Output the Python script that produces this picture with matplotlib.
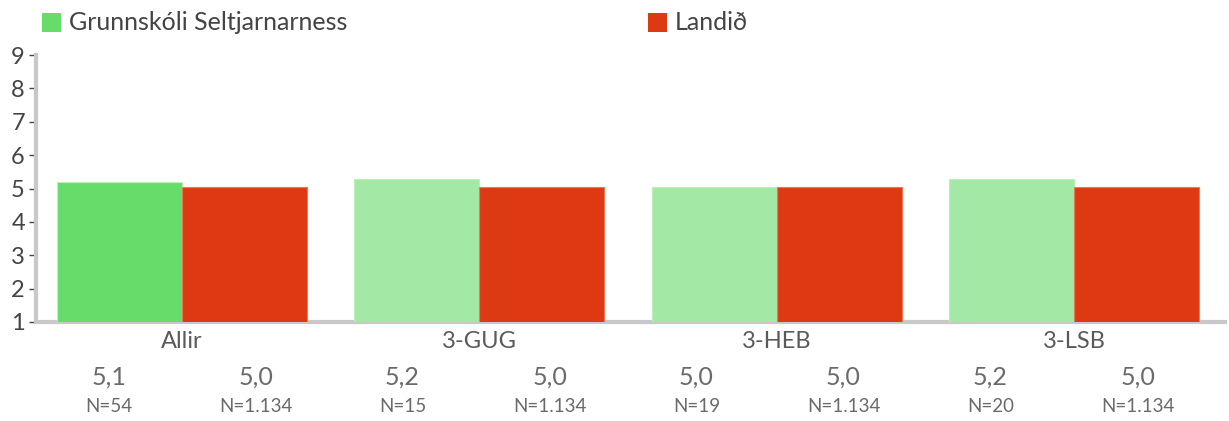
import matplotlib
matplotlib.use("Agg")
import matplotlib.pyplot as plt
import matplotlib.transforms as mtransforms
from matplotlib.patches import Rectangle

categories = ["Allir", "3-GUG", "3-HEB", "3-LSB"]
series_names = ["Grunnskóli Seltjarnarness", "Landið"]
school_values = [5.19, 5.28, 5.03, 5.28]
country_values = [5.04, 5.04, 5.04, 5.04]
school_labels = ["5,1", "5,2", "5,0", "5,2"]
country_labels = ["5,0", "5,0", "5,0", "5,0"]
school_n = ["N=54", "N=15", "N=19", "N=20"]
country_n = ["N=1.134", "N=1.134", "N=1.134", "N=1.134"]
yticks = [1, 2, 3, 4, 5, 6, 7, 8, 9]

FONT = ["Lato", "DejaVu Sans"]
plt.rcParams["font.family"] = FONT
plt.rcParams["font.weight"] = "normal"

green_dark = "#66dd6a"
green_light = "#a3e9a5"
red = "#dd3912"

W, H = 1229, 421
fig = plt.figure(figsize=(W/100, H/100), dpi=100)
ax = fig.add_axes([36/W, 1-322/H, (1225-36)/W, (322-55)/H])

w = 0.42
for i, cat in enumerate(categories):
    gcol = green_dark if i == 0 else green_light
    ax.bar(i - w/2, school_values[i], width=w, color=gcol, edgecolor="#b8f0b8", linewidth=0.8, zorder=2)
    ax.bar(i + w/2, country_values[i], width=w, color=red, edgecolor="#ee7755", linewidth=0.8, zorder=2)

ax.set_xlim(-0.49, 3.506)
ax.set_ylim(1, 9)
ax.set_yticks(yticks)
ax.set_yticklabels([str(v) for v in yticks], fontsize=17, color="#444444")
ax.set_xticks([])
ax.tick_params(axis="y", length=5, width=1, color="#444444", pad=3)
for s in ["top", "right"]:
    ax.spines[s].set_visible(False)
for s in ["left", "bottom"]:
    ax.spines[s].set_color("#c8c8c8")
    ax.spines[s].set_linewidth(3)
ax.spines["bottom"].set_zorder(1)

trans = mtransforms.blended_transform_factory(ax.transData, fig.transFigure)
for i, cat in enumerate(categories):
    ax.text(i, 1-341/H, cat, transform=trans, ha="center", va="center", fontsize=17, color="#5a5a5a")

# value table below: 8 equal columns
col_w = 147
col_x0 = 35
for i in range(len(categories)):
    for j, (lab, n) in enumerate([(school_labels[i], school_n[i]), (country_labels[i], country_n[i])]):
        cx = (col_x0 + col_w * (2*i + j + 0.5)) / W
        fig.text(cx, 1-377/H, lab, ha="center", va="center", fontsize=18, color="#6a6a6a")
        fig.text(cx, 1-406/H, n, ha="center", va="center", fontsize=13.5, color="#6a6a6a")

# legend
for xpx, col, name in [(42, green_dark, series_names[0]), (648, red, series_names[1])]:
    fig.patches.append(Rectangle((xpx/W, 1-32/H), 19/W, 19/H, transform=fig.transFigure,
                                 facecolor=col, edgecolor="none"))
    fig.text((xpx+27)/W, 1-22/H, name, ha="left", va="center", fontsize=18, color="#444444")

fig.savefig("out.png", dpi=100)
